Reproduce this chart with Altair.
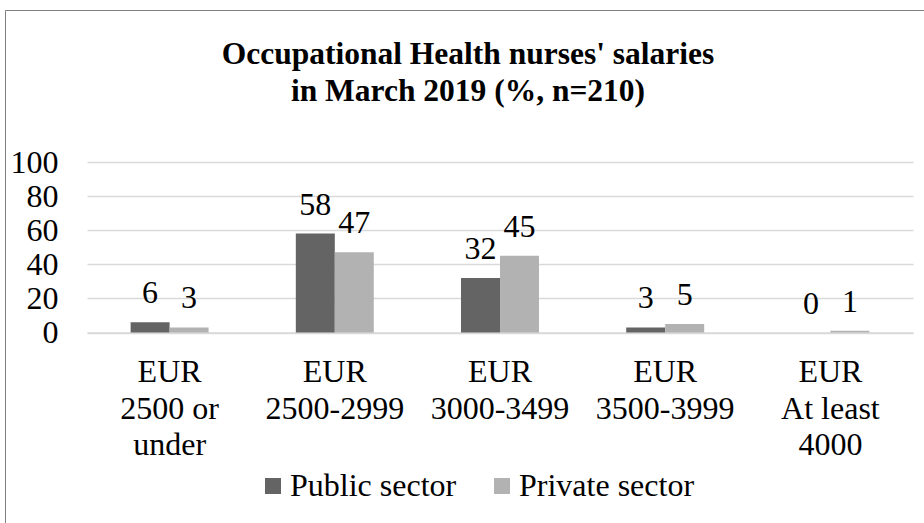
import altair as alt
import pandas as pd

categories = ["EUR|2500 or|under", "EUR|2500-2999", "EUR|3000-3499", "EUR|3500-3999", "EUR|At least|4000"]
public = [6, 58, 32, 3, 0]
private = [3, 47, 45, 5, 1]
series = ["Public sector", "Private sector"]
colors = ["#646464", "#B2B2B2"]
y_ticks = [0, 20, 40, 60, 80, 100]
title_lines = ["Occupational Health nurses' salaries", "in March 2019 (%, n=210)"]

rows = []
for c, a, b in zip(categories, public, private):
    rows.append({"cat": c, "sector": series[0], "value": a})
    rows.append({"cat": c, "sector": series[1], "value": b})
df = pd.DataFrame(rows)

FONT = "Liberation Serif"
FS = 32
W, H = 826, 170.5

x_enc = alt.X(
    "cat:N", sort=categories, title=None,
    scale=alt.Scale(paddingInner=0.528, paddingOuter=0.264),
    axis=alt.Axis(labelExpr="split(datum.label, '|')", labelAngle=0, ticks=False, tickSize=0,
                  labelPadding=24, labelFontSize=FS, labelFont=FONT, labelColor="black",
                  labelLineHeight=36.5, domainColor="#D9D9D9", domainWidth=1.3,
                  labelBaseline="top", labelLimit=400, grid=False, labelOverlap=False),
)
xoff = alt.XOffset("sector:N", sort=series, scale=alt.Scale(paddingInner=0, paddingOuter=0))
y_enc = alt.Y(
    "value:Q", title=None,
    scale=alt.Scale(domain=[0, 100], nice=False),
    axis=alt.Axis(values=y_ticks, tickCount=6, ticks=False, tickSize=0, domain=False, labelPadding=29,
                  labelFontSize=FS, labelFont=FONT, labelColor="black", labelOverlap=False,
                  gridColor="#D9D9D9", gridWidth=1.3),
)
color_enc = alt.Color(
    "sector:N", sort=series,
    scale=alt.Scale(domain=series, range=colors),
    legend=alt.Legend(orient="none", legendX=170, legendY=308, direction="horizontal", title=None,
                      symbolType="square", symbolSize=256, symbolStrokeWidth=0,
                      labelFontSize=FS, labelFont=FONT, labelColor="black", labelOffset=1,
                      columnPadding=29, padding=0, labelLimit=400),
)

frame = alt.Chart(pd.DataFrame({"f": [0]})).mark_rect(
    fill="white", fillOpacity=0, stroke="#7F7F7F", strokeWidth=1
).encode(x=alt.value(-81.5), x2=alt.value(860), y=alt.value(-151.5), y2=alt.value(400))

base = alt.Chart(df)
bars = base.mark_bar().encode(x=x_enc, xOffset=xoff, y=y_enc, color=color_enc)
labels = base.mark_text(font=FONT, fontSize=FS, color="black", baseline="alphabetic", dy=-19).encode(
    x=alt.X("cat:N", sort=categories), xOffset=alt.XOffset("sector:N", sort=series),
    y="value:Q", text="value:Q")

chart = alt.layer(frame, bars, labels).properties(
    width=W, height=H,
    autosize="none",
    background="white",
    padding={"left": 87, "top": 162, "right": 11, "bottom": 190.5},
    title=alt.TitleParams(title_lines, font=FONT, fontSize=31.5, fontWeight="bold", color="black",
                          anchor="middle", frame="group", offset=0, dy=97, dx=-32, lineHeight=37),
).configure(font=FONT).configure_view(stroke=None)

chart.save("out.html", embed_options={"renderer": "svg", "actions": False})
